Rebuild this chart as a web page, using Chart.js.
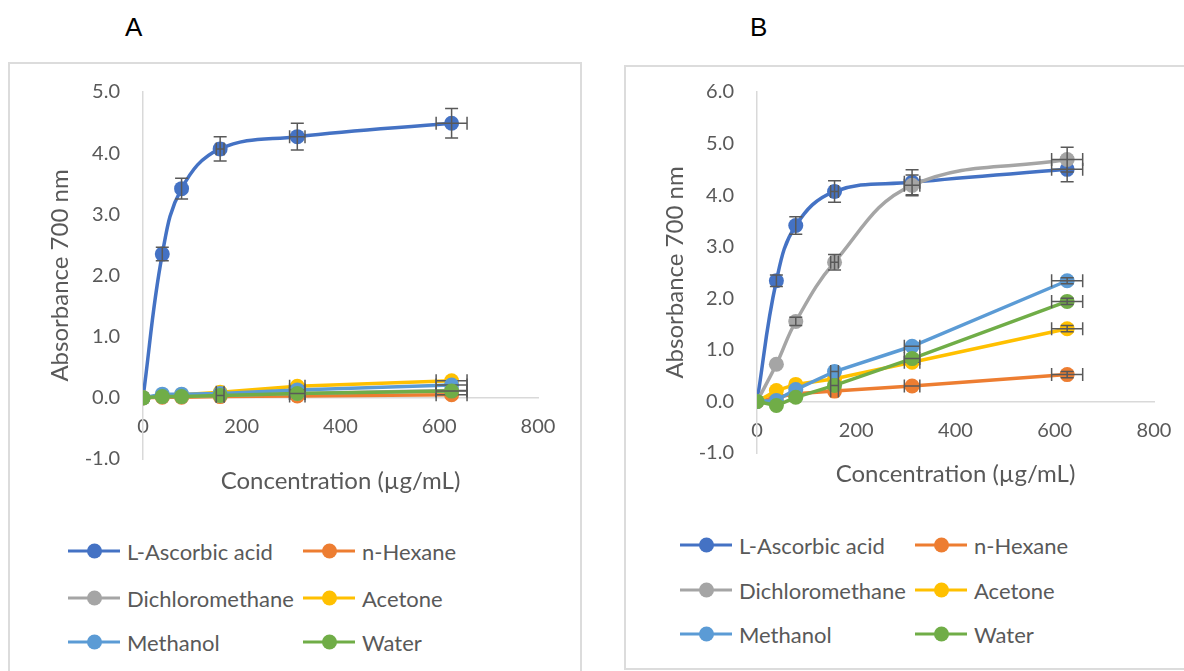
<!DOCTYPE html>
<html lang="en">
<head>
<meta charset="UTF-8">
<title>Absorbance at 700 nm</title>
<script src="https://cdn.jsdelivr.net/npm/chart.js"></script>
<style>
  body { margin: 0; width: 1184px; height: 671px; overflow: hidden; background: #fff; position: relative; font-family: Lato, sans-serif; }
  .tag { position: absolute; font: 26px "Liberation Sans", Arial, sans-serif; color: #000; }
  .panel { position: absolute; border: 2px solid #dcdcdc; box-sizing: border-box; }
  .box { position: absolute; }
  .item { position: absolute; display: flex; align-items: center; font-size: 22px; color: #595959; white-space: nowrap; transform: translateY(-50%); }
  .key { position: relative; width: 52px; height: 3px; margin-right: 7px; }
  .key i { position: absolute; left: 19px; top: -6px; width: 15px; height: 15px; border-radius: 50%; }
</style>
</head>
<body>
<div class="tag" style="left:125px; top:12px;">A</div>
<div class="tag" style="left:750px; top:12px;">B</div>

<div class="panel" style="left:8px; top:62px; width:574px; height:630px;"></div>
<div class="panel" style="left:624px; top:65px; width:580px; height:605px;"></div>

<div class="box" style="left:8px; top:62px; width:572px; height:460px;"><canvas id="chartA"></canvas></div>
<div class="box" style="left:625px; top:65px; width:559px; height:450px;"><canvas id="chartB"></canvas></div>
<div id="legendA"></div>
<div id="legendB"></div>

<script>
// concentrations (µg/mL) and their error
const conc = [0, 39.06, 78.13, 156.25, 312.5, 625];
const concErr = [0, 2, 3.9, 7.8, 15.6, 31.3];
const names = ['L-Ascorbic acid', 'n-Hexane', 'Dichloromethane', 'Acetone', 'Methanol', 'Water'];
const colors = ['#4472C4', '#ED7D31', '#A5A5A5', '#FFC000', '#5B9BD5', '#70AD47'];
const xTicks = [0, 200, 400, 600, 800];

// panel A
const ascorbicA = [0, 2.35, 3.42, 4.07, 4.27, 4.49];
const hexaneA = [0, 0.01, 0.01, 0.02, 0.03, 0.05];
const dcmA = [0, 0.02, 0.02, 0.04, 0.07, 0.12];
const acetoneA = [0, 0.04, 0.05, 0.09, 0.19, 0.28];
const methanolA = [0, 0.06, 0.06, 0.07, 0.13, 0.21];
const waterA = [0, 0.02, 0.02, 0.04, 0.07, 0.11];
const ascorbicErrA = [0, 0.11, 0.17, 0.2, 0.22, 0.24];
const extractErrA = [0, 0.01, 0.01, 0.02, 0.03, 0.04];
const yTicksA = [-1, 0, 1, 2, 3, 4, 5];

// panel B
const ascorbicB = [0, 2.34, 3.41, 4.07, 4.25, 4.5];
const hexaneB = [0, 0.08, 0.15, 0.2, 0.3, 0.52];
const dcmB = [0, 0.72, 1.55, 2.7, 4.19, 4.69];
const acetoneB = [0, 0.21, 0.33, 0.44, 0.76, 1.41];
const methanolB = [0, 0.02, 0.23, 0.58, 1.07, 2.34];
const waterB = [0, -0.08, 0.08, 0.31, 0.83, 1.94];
const ascorbicErrB = [0, 0.11, 0.17, 0.21, 0.24, 0.24];
const dcmErrB = [0, 0.05, 0.08, 0.15, 0.2, 0.24];
const extractErrB = [0, 0.02, 0.03, 0.04, 0.05, 0.06];
const yTicksB = [-1, 0, 1, 2, 3, 4, 5, 6];

Chart.defaults.font.family = 'Lato, sans-serif';
Chart.defaults.color = '#595959';

// draws x/y error bars after each dataset so later series sit on top
const errorBars = {
  id: 'errorBars',
  afterDatasetDraw(chart, args) {
    const ds = chart.data.datasets[args.index];
    const { ctx, scales: { x, y } } = chart;
    const cap = 6.5;
    ctx.save();
    ctx.strokeStyle = '#595959';
    ctx.lineWidth = 1.5;
    ds.data.forEach((p, k) => {
      const px = x.getPixelForValue(p.x), py = y.getPixelForValue(p.y);
      const y1 = y.getPixelForValue(p.y + ds.yErr[k]), y2 = y.getPixelForValue(p.y - ds.yErr[k]);
      const x1 = x.getPixelForValue(p.x - concErr[k]), x2 = x.getPixelForValue(p.x + concErr[k]);
      ctx.beginPath();
      if (py - y1 > 3) {
        ctx.moveTo(px, y1); ctx.lineTo(px, y2);
        ctx.moveTo(px - cap, y1); ctx.lineTo(px + cap, y1);
        ctx.moveTo(px - cap, y2); ctx.lineTo(px + cap, y2);
      }
      if (px - x1 > 3) {
        ctx.moveTo(x1, py); ctx.lineTo(x2, py);
        ctx.moveTo(x1, py - cap); ctx.lineTo(x1, py + cap);
        ctx.moveTo(x2, py - cap); ctx.lineTo(x2, py + cap);
      }
      ctx.stroke();
    });
    ctx.restore();
  }
};

function makeSet(i, values, err, smooth) {
  return {
    label: names[i],
    data: conc.map((c, k) => ({ x: c, y: values[k] })),
    yErr: err,
    borderColor: colors[i],
    backgroundColor: colors[i],
    pointBackgroundColor: colors[i],
    pointBorderColor: colors[i],
    borderWidth: 3.5,
    pointRadius: 7.5,
    pointBorderWidth: 0,
    tension: smooth ? 0.4 : 0,
    order: 6 - i
  };
}

function makeChart(id, sets, yTicks, pad, axisW, titlePadX, titlePadY) {
  return new Chart(document.getElementById(id), {
    type: 'line',
    data: { datasets: sets },
    plugins: [errorBars],
    options: {
      responsive: true,
      maintainAspectRatio: false,
      animation: false,
      layout: { padding: pad },
      plugins: { legend: { display: false }, tooltip: { enabled: false } },
      scales: {
        x: {
          type: 'linear',
          position: { y: 0 },
          min: xTicks[0], max: xTicks[xTicks.length - 1],
          afterBuildTicks: s => { s.ticks = xTicks.map(v => ({ value: v })); },
          grid: { display: false },
          border: { display: true, color: '#d9d9d9', width: 1.5 },
          ticks: { padding: 9, font: { size: 20 } },
          title: { display: true, text: 'Concentration (µg/mL)', font: { size: 24 }, padding: { top: titlePadX, bottom: 0 } }
        },
        y: {
          type: 'linear',
          min: yTicks[0], max: yTicks[yTicks.length - 1],
          afterBuildTicks: s => { s.ticks = yTicks.map(v => ({ value: v })); },
          afterFit: s => { s.width = axisW; },
          grid: { drawOnChartArea: false, drawTicks: true, tickLength: 20, tickColor: 'rgba(0,0,0,0)' },
          border: { display: true, color: '#d9d9d9', width: 1.5 },
          ticks: { padding: 3, font: { size: 20 }, callback: v => v.toFixed(1) },
          title: { display: true, text: 'Absorbance 700 nm', font: { size: 24 }, padding: { top: titlePadY, bottom: 0 } }
        }
      }
    }
  });
}

function makeLegend(id, colX, rowY) {
  const el = document.getElementById(id);
  names.forEach((n, i) => {
    const d = document.createElement('div');
    d.className = 'item';
    d.style.left = colX[i % 2] + 'px';
    d.style.top = rowY[Math.floor(i / 2)] + 'px';
    d.innerHTML = '<span class="key" style="background:' + colors[i] + '"><i style="background:' + colors[i] + '"></i></span>' + n;
    el.appendChild(d);
  });
}

makeChart('chartA', [
  makeSet(0, ascorbicA, ascorbicErrA, true),
  makeSet(1, hexaneA, extractErrA, false),
  makeSet(2, dcmA, extractErrA, false),
  makeSet(3, acetoneA, extractErrA, false),
  makeSet(4, methanolA, extractErrA, false),
  makeSet(5, waterA, extractErrA, false)
], yTicksA, { left: 0, top: 30, right: 42, bottom: 63 }, 135, 19, 38);

makeChart('chartB', [
  makeSet(0, ascorbicB, ascorbicErrB, true),
  makeSet(1, hexaneB, extractErrB, false),
  makeSet(2, dcmB, dcmErrB, true),
  makeSet(3, acetoneB, extractErrB, false),
  makeSet(4, methanolB, extractErrB, false),
  makeSet(5, waterB, extractErrB, false)
], yTicksB, { left: 0, top: 27, right: 30, bottom: 62 }, 132, 8, 36);

makeLegend('legendA', [68, 303], [551, 598, 642]);
makeLegend('legendB', [680, 915], [545, 590, 634]);
</script>
</body>
</html>
